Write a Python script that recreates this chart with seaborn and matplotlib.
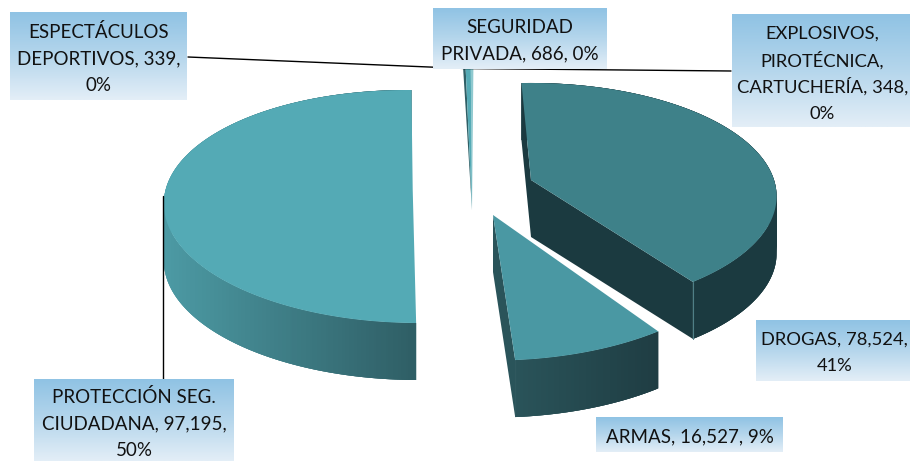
import numpy as np
import matplotlib.pyplot as plt
import seaborn as sns

# values, clockwise from the top of the pie
categories = ['EXPLOSIVOS, PIROTÉCNICA, CARTUCHERÍA', 'DROGAS', 'ARMAS',
              'PROTECCIÓN SEG. CIUDADANA', 'ESPECTÁCULOS DEPORTIVOS', 'SEGURIDAD PRIVADA']
values = [348, 78524, 16527, 97195, 339, 686]

label_lines = [
    ['EXPLOSIVOS,', 'PIROTÉCNICA,', 'CARTUCHERÍA, 348,', '0%'],
    ['DROGAS, 78,524,', '41%'],
    ['ARMAS, 16,527, 9%'],
    ['PROTECCIÓN SEG.', 'CIUDADANA, 97,195,', '50%'],
    ['ESPECTÁCULOS', 'DEPORTIVOS, 339,', '0%'],
    ['SEGURIDAD', 'PRIVADA, 686, 0%'],
]

# slice geometry in pixels (explosion, rotation and projection of the 3d pie)
center_x = [472, 531, 493, 412.7, 472, 472]
center_y = [210, 180, 215, 189.5, 210, 210]
radius_x = [280, 243, 257, 247, 280, 280]
radius_y = [172, 113.6, 127, 116.5, 172, 172]
rotation = [-0.3, -3.2, -1.7, 3.0, -0.3, -0.3]
shear = [0, 0.3, 0, 5.3, 0, 0]
top_colors = ['#8fc9cf', '#3e8189', '#4a98a3', '#54aab5', '#2f5f66', '#54aab5']
wall_left = ['#2f5f66', '#1b3a40', '#2a545a', '#4c9aa4', '#1f3f45', '#1f3f45']
wall_right = ['#2f5f66', '#1b3a40', '#1f3d43', '#2f5e65', '#1f3f45', '#1f3f45']
outer_wall = [False, True, True, True, False, False]
start_wall = [False, True, False, False, False, False]
end_wall = [False, True, True, False, False, False]
draw_order = [4, 5, 0, 3, 1, 2]

label_boxes = [(732, 15, 910, 127), (756, 320, 910, 381), (596, 417, 783, 452),
               (34, 379, 234, 461), (10, 13, 187, 100), (433, 8, 607, 69)]
label_shift = [2.5, 2, 2.5, 4, 2, 2]
label_size = [13.2, 13.2, 13.5, 13.5, 13.5, 13.5]
DEPTH = 57
PERSPECTIVE = 0.146
LINE_STEP = 26.7

sns.set_theme(style='white')
plt.rcParams['font.family'] = ['Lato', 'DejaVu Sans']

fig = plt.figure(figsize=(9.10, 4.61), dpi=100)
ax = fig.add_axes([0, 0, 1, 1])


def project(i, theta):
    t = np.radians(theta + rotation[i])
    u, v = np.sin(t), -np.cos(t)
    s = 1 + PERSPECTIVE * v
    return (center_x[i] + radius_x[i] * u * s + shear[i] * v,
            center_y[i] + radius_y[i] * v * s)


edges = np.concatenate([[0], np.cumsum(values)]) / sum(values) * 360
apex = lambda i: (center_x[i], center_y[i])

for i in draw_order:
    thetas = np.linspace(edges[i], edges[i + 1], max(int(edges[i + 1] - edges[i]) * 2, 2) + 1)
    xs, ys = project(i, thetas)

    # side faces along the cuts
    if start_wall[i]:
        ax.fill([apex(i)[0], xs[0], xs[0], apex(i)[0]],
                [apex(i)[1], ys[0], ys[0] + DEPTH, apex(i)[1] + DEPTH],
                color=wall_left[i], lw=0, zorder=i + 1)
    if end_wall[i]:
        ax.fill([apex(i)[0], xs[-1], xs[-1], apex(i)[0]],
                [apex(i)[1], ys[-1], ys[-1] + DEPTH, apex(i)[1] + DEPTH],
                color=wall_left[i], lw=0, zorder=i + 1)

    # outer wall, strips overlap the next one so no seams show through the shading
    if outer_wall[i]:
        shades = sns.blend_palette([wall_left[i], wall_right[i]], 64)
        span = max(xs.max() - xs.min(), 1)
        strips = sorted(range(len(thetas) - 1), key=lambda k: xs[k] + xs[k + 1])
        for k in strips:
            end = min(k + 2, len(thetas) - 1)
            start = max(k - 1, 0)
            shade = shades[int(((xs[k] + xs[k + 1]) / 2 - xs.min()) / span * 63)]
            ax.fill([xs[start], xs[end], xs[end], xs[start]],
                    [ys[start], ys[end], ys[end] + DEPTH, ys[start] + DEPTH],
                    color=shade, lw=0, zorder=i + 1)

    # corner highlight on the front of the big dark slice
    if i == 1:
        ax.plot([xs[-1], xs[-1]], [ys[-1], ys[-1] + DEPTH], color='#4f7f86', lw=0.8, zorder=i + 1)

    ax.fill(np.r_[apex(i)[0], xs], np.r_[apex(i)[1], ys], color=top_colors[i], lw=0, zorder=i + 1.5)

# leader lines
ax.plot([188, 465], [57, 68.5], color='black', lw=1, zorder=10)
ax.plot([731, 465], [71, 68.5], color='black', lw=1, zorder=10)
ax.plot([163, 163], [196, 380], color='black', lw=1, zorder=10)

# gradient label boxes with their text
box_cmap = sns.blend_palette(['#90c3e4', '#b5d6ec', '#e3eef7'], as_cmap=True)
gradient = np.linspace(0, 1, 64).reshape(-1, 1)
for lines, (x0, y0, x1, y1), shift, size in zip(label_lines, label_boxes, label_shift, label_size):
    ax.imshow(gradient, cmap=box_cmap, extent=(x0, x1, y1, y0), aspect='auto', zorder=11)
    middle = (y0 + y1) / 2 + shift
    for n, line in enumerate(lines):
        text_x = (x0 + x1) / 2
        if x1 == 910:
            text_x += 1.5
        ax.text(text_x, middle + (n - (len(lines) - 1) / 2) * LINE_STEP, line,
                ha='center', va='center', fontsize=size, color='#111111', zorder=12)

ax.set_xlim(0, 910)
ax.set_ylim(461, 0)
ax.axis('off')

fig.savefig('out.png', dpi=100)
